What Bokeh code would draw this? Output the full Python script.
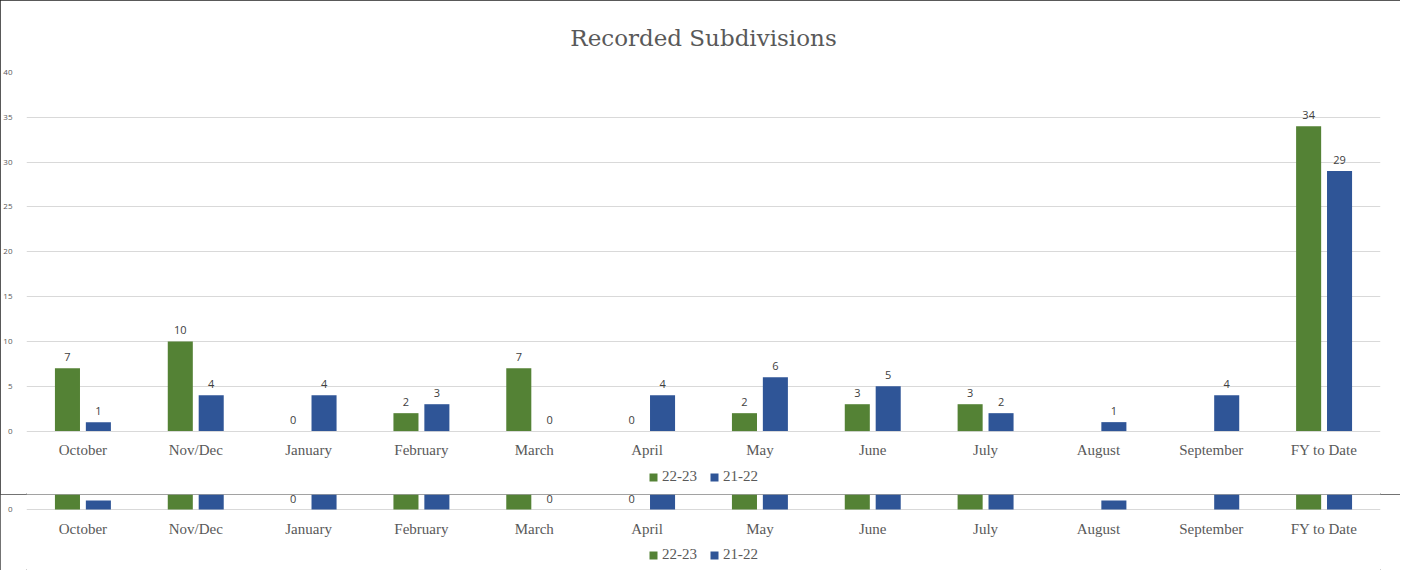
from bokeh.plotting import figure
from bokeh.models import (ColumnDataSource, FactorRange, Range1d, Legend, LegendItem,
                          FixedTicker)
from bokeh.transform import dodge
from bokeh.layouts import column
from bokeh.core.properties import value
from bokeh.embed import file_html
from bokeh.resources import INLINE

categories = ["October", "Nov/Dec", "January", "February", "March", "April",
              "May", "June", "July", "August", "September", "FY to Date"]
series_2223 = [7, 10, 0, 2, 7, 0, 2, 3, 3, None, None, 34]
series_2122 = [1, 4, 4, 3, 0, 4, 6, 5, 2, 1, 4, 29]
series_names = ["22-23", "21-22"]
colors = ["#548235", "#2F5597"]
y_ticks = [0, 5, 10, 15, 20, 25, 30, 35, 40]

GRAY = "#595959"
GRID = "#d9d9d9"
PX = 9.05  # pixels per unit

def num(v):
    return float("nan") if v is None else v

src = ColumnDataSource(dict(cat=categories,
                            a=[num(v) for v in series_2223],
                            b=[num(v) for v in series_2122]))
lab_a = ColumnDataSource(dict(cat=[c for c, v in zip(categories, series_2223) if v is not None],
                              v=[v for v in series_2223 if v is not None],
                              t=[str(v) for v in series_2223 if v is not None]))
lab_b = ColumnDataSource(dict(cat=[c for c, v in zip(categories, series_2122) if v is not None],
                              v=[v for v in series_2122 if v is not None],
                              t=[str(v) for v in series_2122 if v is not None]))
cat_src = ColumnDataSource(dict(cat=categories, y=[0] * len(categories)))

OFF = 0.137
BW = 0.222


def build(height, y_start, y_end, ticks, border_top, legend_margin, title=None):
    x_range = FactorRange(*categories, range_padding=0)
    p = figure(x_range=x_range, y_range=Range1d(y_start, y_end), width=1400, height=height,
               output_backend="svg", toolbar_location=None,
               min_border_left=19, min_border_right=20,
               min_border_top=border_top, min_border_bottom=0,
               title=title)
    p.outline_line_color = None
    ra = p.vbar(x=dodge("cat", -OFF, range=x_range), top="a", bottom=0, width=BW, source=src,
                fill_color=colors[0], line_color=None)
    rb = p.vbar(x=dodge("cat", OFF, range=x_range), top="b", bottom=0, width=BW, source=src,
                fill_color=colors[1], line_color=None)
    for s, d in ((lab_a, -OFF), (lab_b, OFF)):
        p.text(x=dodge("cat", d, range=x_range), y="v", text="t", source=s,
               text_align="center", text_baseline="bottom", y_offset=-7,
               text_font=value("Open Sans"), text_font_size="11px", text_color="#404040")
    # category labels under the zero line
    p.text(x="cat", y="y", text="cat", source=cat_src, text_align="center",
           text_baseline="middle", y_offset=19,
           text_font=value("Liberation Serif"), text_font_size="15px", text_color=GRAY)
    p.xaxis.visible = False
    p.xgrid.visible = False
    p.ygrid.grid_line_color = GRID
    p.ygrid.ticker = FixedTicker(ticks=ticks)
    p.yaxis.ticker = FixedTicker(ticks=ticks)
    p.yaxis.axis_line_color = None
    p.yaxis.major_tick_line_color = None
    p.yaxis.minor_tick_line_color = None
    p.yaxis.major_label_text_font_size = "8px"
    p.yaxis.major_label_text_font = "Open Sans"
    p.yaxis.major_label_text_color = GRAY
    p.yaxis.major_label_standoff = 8
    legend = Legend(items=[LegendItem(label=series_names[0], renderers=[ra]),
                           LegendItem(label=series_names[1], renderers=[rb])],
                    orientation="horizontal", location="bottom_center",
                    glyph_width=10, glyph_height=10, label_standoff=4, spacing=12,
                    padding=0, margin=legend_margin, border_line_color=None,
                    label_text_font="Liberation Serif", label_text_font_size="15px",
                    label_text_color=GRAY, background_fill_alpha=0)
    p.add_layout(legend, "center")
    return p

# main chart: zero line 430 px, 40 at 68 px, figure 0..494
main = build(494, -(494 - 430) / PX, 40, y_ticks, 68, 9, title="Recorded Subdivisions")
main.title.align = "center"
main.title.text_font = "DejaVu Serif"
main.title.text_font_size = "23px"
main.title.text_font_style = "normal"
main.title.text_color = GRAY
main.title.standoff = 44
main.styles = {"outline": "1.5px solid #222", "outline-offset": "-1.5px"}

# chart copy behind it, of which only the bottom strip shows
ghost = build(76, -(76 - 15) / PX, 15 / PX, [0], 0, 7)
ghost.styles = {"outline": "1px solid #444", "outline-offset": "-1px"}

layout = column(main, ghost, spacing=0)

open("out.html", "w").write(file_html(layout, INLINE))
